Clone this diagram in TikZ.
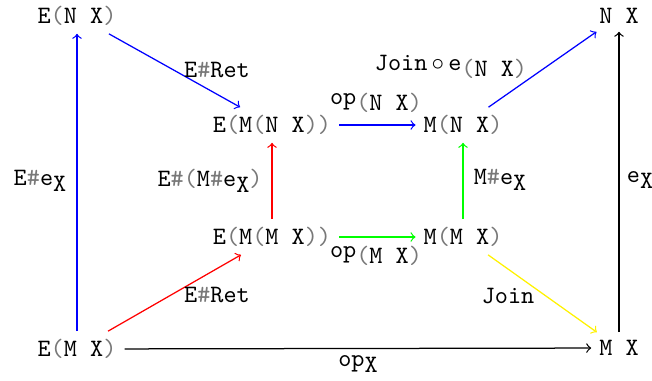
\documentclass[tikz,border=0pt]{standalone}
\usepackage{xcolor}
\definecolor{parengray}{RGB}{120,120,120}
\newcommand\gl{\textcolor{parengray}{(}}
\newcommand\gr{\textcolor{parengray}{)}}
\newcommand\gh{\textcolor{parengray}{\#}}
\newcommand\lo[1]{\raisebox{-.55ex}{#1}}

\begin{document}
\begin{tikzpicture}[x=0.4pt,y=-0.4pt,font=\ttfamily,>=to,line width=0.5pt]
  \useasboundingbox (0,0) rectangle (652,380);

  \begin{scope}[every node/.style={inner sep=3pt}]
    \node (ENX)  at (77,16)   {E\gl N X\gr};
    \node (NX)   at (619,16)  {N X};
    \node (EMNX) at (272,125) {E\gl M\gl N X\gr\gr};
    \node (MNX)  at (463,125) {M\gl N X\gr};
    \node (EMMX) at (272,237) {E\gl M\gl M X\gr\gr};
    \node (MMX)  at (463,237) {M\gl M X\gr};
    \node (EMX)  at (77,349)  {E\gl M X\gr};
    \node (MX)   at (619,348) {M X};
  \end{scope}

  \begin{scope}[every edge/.style={draw,->}]
    \path (EMX)  edge[draw=blue]   (ENX);
    \path (ENX)  edge[draw=blue]   (EMNX);
    \path (EMNX) edge[draw=blue]   (MNX);
    \path (MNX)  edge[draw=blue]   (NX);
    \path (MX)   edge              (NX);
    \path (EMMX) edge[draw=red]    (EMNX);
    \path (MMX)  edge[draw=green]  (MNX);
    \path (EMMX) edge[draw=green]  (MMX);
    \path (EMX)  edge[draw=red]    (EMMX);
    \path (MMX)  edge[draw=yellow] (MX);
    \path (EMX)  edge              (MX);
  \end{scope}

  % labels
  \begin{scope}[every node/.style={inner sep=0pt}]
    \node (lEe)    at (40,181)  {E\gh e\lo{X}};
    \node (lRet1)  at (217,70)  {E\gh Ret};
    \node (lEMe)   at (210,181) {E\gh\gl M\gh e\lo{X}\gr};
    \node (lopNX)  at (376,103) {op\lo{\gl N X\gr}};
    \node (lJoinE) at (451,67)  {Join\,$\circ$\,e\lo{\gl N X\gr}};
    \node (lMe)    at (500,180) {M\gh e\lo{X}};
    \node (le)     at (640,180) {e\lo{X}};
    \node (lopMX)  at (376,256) {op\lo{\gl M X\gr}};
    \node (lRet2)  at (217,295) {E\gh Ret};
    \node (lJoin)  at (508,296) {Join};
    \node (lopX)   at (358,364) {op\lo{X}};
  \end{scope}

\end{tikzpicture}
\end{document}
